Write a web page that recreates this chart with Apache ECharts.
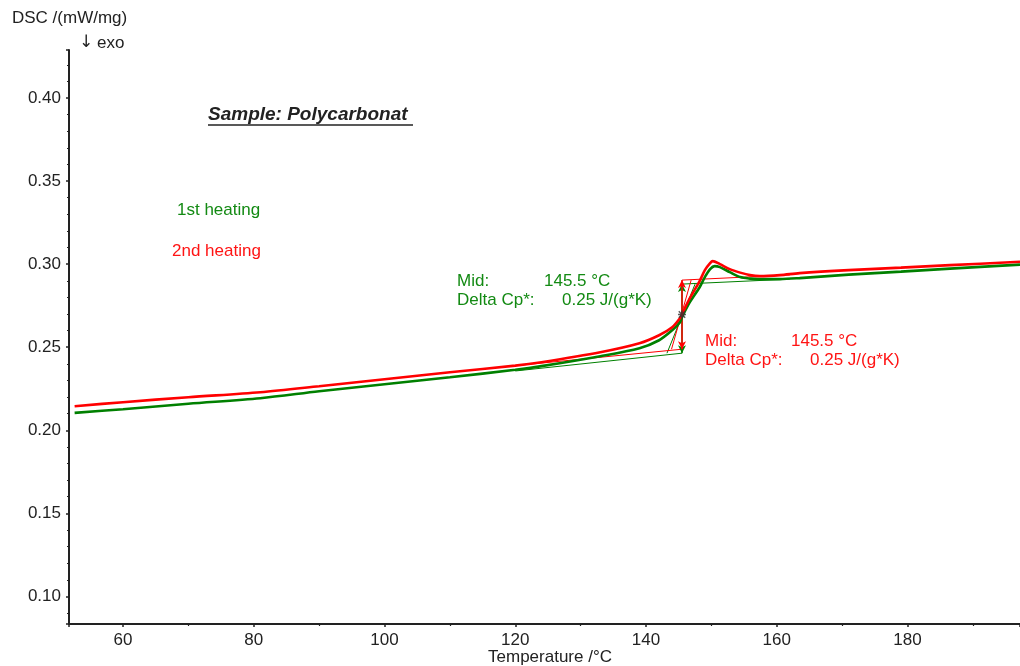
<!DOCTYPE html>
<html><head><meta charset="utf-8">
<script src="https://cdn.jsdelivr.net/npm/echarts@6/dist/echarts.min.js"></script>
<style>html,body{margin:0;padding:0;background:#fff}#c{width:1020px;height:666px}</style>
</head><body><div id="c"></div>
<script>
// 1st heating (green)
const temp1 = [52.6, 60, 70, 81, 90, 100, 110, 120, 124, 133, 139, 142, 144, 145.2, 145.5, 146.7, 148.2, 149, 149.8, 150.5, 151.3, 152.8, 154.4, 155.9, 157.4, 160.5, 163.5, 171, 179, 186.5, 197.2];
const dsc1  = [0.2105, 0.2127, 0.2160, 0.2193, 0.2235, 0.2277, 0.2319, 0.2364, 0.2386, 0.2446, 0.2494, 0.2542, 0.2602, 0.2651, 0.2681, 0.2771, 0.2861, 0.2922, 0.2970, 0.2988, 0.2982, 0.2952, 0.2922, 0.2913, 0.2910, 0.2910, 0.2916, 0.2937, 0.2955, 0.2973, 0.2997];
// 2nd heating (red)
const temp2 = [52.6, 60, 70, 81, 90, 100, 110, 120, 124, 133, 139, 142, 144, 145.2, 145.5, 146.7, 148.2, 149, 149.8, 150.2, 151.3, 152.8, 154.4, 155.9, 157.4, 160.5, 163.5, 171, 179, 186.5, 197.2];
const dsc2  = [0.2145, 0.2169, 0.2199, 0.2229, 0.2265, 0.2307, 0.2349, 0.2389, 0.2410, 0.2470, 0.2524, 0.2572, 0.2620, 0.2675, 0.2699, 0.2795, 0.2898, 0.2964, 0.3006, 0.3018, 0.3000, 0.2970, 0.2949, 0.2934, 0.2928, 0.2934, 0.2946, 0.2964, 0.2979, 0.2994, 0.3014];

// Glass transition evaluation constructions
const midTemp = 145.5;
const greenBaseLowT = [120, 145.5],  greenBaseLowV = [0.2357, 0.2464];
const greenBaseHighT = [145.5, 162], greenBaseHighV = [0.2880, 0.2910];
const greenTangentT = [143.2, 147.5], greenTangentV = [0.2464, 0.2880];
const redBaseLowT = [120, 145.5],  redBaseLowV = [0.2389, 0.2488];
const redBaseHighT = [145.5, 162], redBaseHighV = [0.2904, 0.2935];
const redTangentT = [143.9, 146.9], redTangentV = [0.2488, 0.2904];
const greenStepV = [0.2464, 0.2880];
const redStepV = [0.2488, 0.2904];
const midPointV = 0.2697;

const xTicks = [60, 80, 100, 120, 140, 160, 180];
const yTicks = [0.10, 0.15, 0.20, 0.25, 0.30, 0.35, 0.40];

const GREEN = '#008000', RED = '#ff0000';
const GTXT = '#138a13', RTXT = '#ff1414';
const FONT = '"Liberation Sans", Arial, sans-serif';
const zip = (a, b) => a.map((v, i) => [v, b[i]]);

function thin(name, T, V, color) {
  return {type: 'line', name, data: zip(T, V), symbol: 'none', silent: true,
    lineStyle: {color, width: 1}, z: 3};
}
function step(V, color) {
  return {type: 'line', data: [], symbol: 'none', silent: true,
    markLine: {silent: true, symbol: ['arrow', 'arrow'], symbolSize: [6, 8],
      label: {show: false},
      lineStyle: {color, width: 1.5, type: 'solid'},
      data: [[{coord: [midTemp, V[0]]}, {coord: [midTemp, V[1]]}]]}, z: 4};
}

const chart = echarts.init(document.getElementById('c'), null, {renderer: 'canvas'});
const txt = (x, y, text, fill, extra) => ({type: 'text', x, y,
  style: Object.assign({text, fill, font: '17px ' + FONT, align: 'left', verticalAlign: 'middle'}, extra || {})});

chart.setOption({
  animation: false,
  backgroundColor: '#fff',
  grid: {left: 69, right: 0, top: 50, bottom: 42, containLabel: false, outerBoundsMode: 'none'},
  xAxis: {
    type: 'value', min: 51.74, max: 197.2, splitNumber: 7,
    axisLine: {show: true, onZero: false, lineStyle: {color: '#222', width: 2}},
    axisTick: {show: true, length: 3, lineStyle: {color: '#222', width: 1.5}},
    minorTick: {show: true, splitNumber: 2, length: 2, lineStyle: {color: '#222', width: 1.2}},
    axisLabel: {fontSize: 17, color: '#222', fontFamily: FONT, margin: 8,
      showMinLabel: false, showMaxLabel: false,
      formatter: v => xTicks.includes(Math.round(v)) && Math.abs(v - Math.round(v)) < 1e-6 ? String(Math.round(v)) : ''},
    splitLine: {show: false}
  },
  yAxis: {
    type: 'value', min: 0.0834, max: 0.4289, splitNumber: 7,
    axisLine: {show: true, lineStyle: {color: '#222', width: 2}},
    axisTick: {show: true, length: 3, lineStyle: {color: '#222', width: 1.5}},
    minorTick: {show: true, splitNumber: 5, length: 2, lineStyle: {color: '#222', width: 1.2}},
    axisLabel: {fontSize: 17, color: '#222', fontFamily: FONT, margin: 8,
      showMinLabel: false, showMaxLabel: false,
      formatter: v => yTicks.some(t => Math.abs(t - v) < 1e-6) ? v.toFixed(2) : ''},
    splitLine: {show: false}
  },
  series: [
    thin('g-base-low', greenBaseLowT, greenBaseLowV, GREEN),
    thin('g-base-high', greenBaseHighT, greenBaseHighV, GREEN),
    thin('g-tangent', greenTangentT, greenTangentV, GREEN),
    thin('r-base-low', redBaseLowT, redBaseLowV, RED),
    thin('r-base-high', redBaseHighT, redBaseHighV, RED),
    thin('r-tangent', redTangentT, redTangentV, RED),
    step(greenStepV, GREEN),
    step(redStepV, RED),
    {type: 'line', name: '1st heating', data: zip(temp1, dsc1), symbol: 'none', smooth: 0.3,
      lineStyle: {color: GREEN, width: 2.6}, z: 5},
    {type: 'line', name: '2nd heating', data: zip(temp2, dsc2), symbol: 'none', smooth: 0.3,
      lineStyle: {color: RED, width: 2.6}, z: 6},
    {type: 'scatter', data: [[midTemp, midPointV]], symbol: 'path://M0,-5L0,5M-5,0L5,0M-4,-4L4,4M-4,4L4,-4',
      symbolSize: 8, itemStyle: {color: 'none', borderColor: '#333', borderWidth: 1.5}, z: 7, silent: true}
  ],
  graphic: [
    txt(12, 18, 'DSC /(mW/mg)', '#222'),
    txt(79, 43, '↓', '#222', {font: '17px "DejaVu Sans", sans-serif'}),
    txt(97, 43, 'exo', '#222'),
    txt(550, 657, 'Temperature /°C', '#222', {align: 'center'}),
    txt(208, 115, 'Sample: Polycarbonat', '#222', {font: 'italic bold 19px ' + FONT}),
    {type: 'line', shape: {x1: 208, y1: 125, x2: 413, y2: 125}, style: {stroke: '#222', lineWidth: 1.5}},
    txt(177, 210, '1st heating', GTXT),
    txt(172, 251, '2nd heating', RTXT),
    txt(457, 281, 'Mid:', GTXT),
    txt(544, 281, '145.5 °C', GTXT),
    txt(457, 300, 'Delta Cp*:', GTXT),
    txt(562, 300, '0.25 J/(g*K)', GTXT),
    txt(705, 341, 'Mid:', RTXT),
    txt(791, 341, '145.5 °C', RTXT),
    txt(705, 360, 'Delta Cp*:', RTXT),
    txt(810, 360, '0.25 J/(g*K)', RTXT)
  ]
});
</script></body></html>
